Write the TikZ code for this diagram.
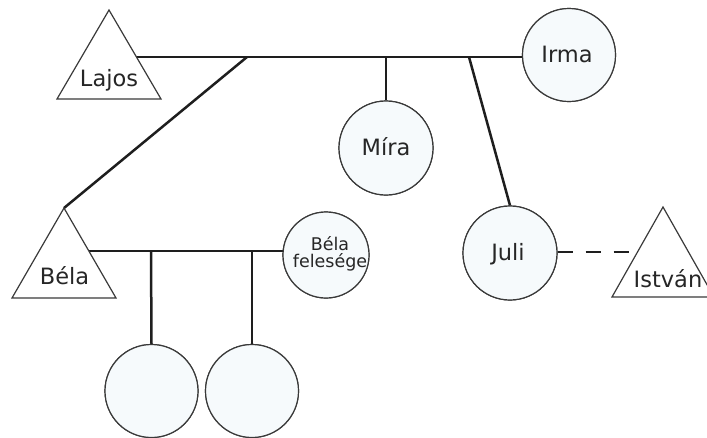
\documentclass[tikz,border=0pt]{standalone}
\usepackage{fontspec}
\setmainfont{DejaVu Sans}
\definecolor{linec}{HTML}{1E1E1E}
\definecolor{shapec}{HTML}{3A3A3A}
\definecolor{fillc}{HTML}{F6FAFC}
\definecolor{textc}{HTML}{262626}
\tikzset{
  conn/.style={draw=linec, line width=2.5pt},
  dconn/.style={conn, dash pattern=on 15pt off 13pt},
  person/.style={circle, draw=shapec, line width=1.2pt, fill=fillc, inner sep=0pt},
  tri/.style={draw=shapec, line width=1.2pt, fill=white, line join=miter},
  nametext/.style={font=\fontsize{22.5}{26}\selectfont, text=textc, anchor=base, inner sep=0pt},
  smalltext/.style={font=\fontsize{17.5}{20}\selectfont, text=textc, align=center, inner sep=0pt}
}
\begin{document}
\begin{tikzpicture}[x=1pt,y=-1pt]
\useasboundingbox (0,0) rectangle (707,437);
% named coordinates
\coordinate (lajosapex) at (109,10);
\coordinate (belaapex) at (64,208);
\coordinate (istvanapex) at (663,207);
\coordinate (lajosmid) at (109,57);
\coordinate (belamid) at (64,251);
\coordinate (split) at (247,57);
\coordinate (mirajoin) at (386,57);
\coordinate (julijoin) at (469,57);
\coordinate (kid1join) at (151,251);
\coordinate (kid2join) at (252,251);
\coordinate (istvanmid) at (663,252);
% circle positions
\path (569,55) node[person, minimum size=93pt] (irma) {};
\path (386,148) node[person, minimum size=94pt] (mira) {};
\path (510,253) node[person, minimum size=94pt] (juli) {};
\path (326,255) node[person, minimum size=86pt] (feleseg) {};
\path (151.5,391) node[person, minimum size=93pt] (kid1) {};
\path (252,391) node[person, minimum size=93pt] (kid2) {};
% connectors
\draw[conn] (lajosmid) -- (irma.center |- lajosmid);
\draw[conn] (split) -- (belaapex);
\draw[conn] (mirajoin) -- (mira.north);
\draw[conn] (julijoin) -- (juli.north);
\draw[conn] (belamid) -- (feleseg.center |- belamid);
\draw[conn] (kid1join) -- (kid1.north);
\draw[conn] (kid2join) -- (kid2.north);
\draw[dconn] (juli.east |- istvanmid) -- (istvanmid);
% redraw circles on top of connectors
\path (569,55) node[person, minimum size=93pt] {};
\path (386,148) node[person, minimum size=94pt] {};
\path (510,253) node[person, minimum size=94pt] {};
\path (326,255) node[person, minimum size=86pt] {};
\path (151.5,391) node[person, minimum size=93pt] {};
\path (252,391) node[person, minimum size=93pt] {};
% triangles
\draw[tri] (lajosapex) -- ++(52,89) -- ++(-104,0) -- cycle;
\draw[tri] (belaapex) -- ++(52,90) -- ++(-104,0) -- cycle;
\draw[tri] (istvanapex) -- ++(51,90) -- ++(-102,0) -- cycle;
% labels
\node[nametext] (lajos) at (109,86) {Lajos};
\node[nametext] (bela) at (64.5,284) {Béla};
\node[nametext] (istvan) at (668,287) {István};
\node[nametext] (irmat) at (567,62) {Irma};
\node[nametext] (mirat) at (386,155) {Míra};
\node[nametext] (julit) at (508,260) {Juli};
\node[smalltext] (felesegt) at (330,254) {Béla\\[-3pt]felesége};
\end{tikzpicture}
\end{document}
